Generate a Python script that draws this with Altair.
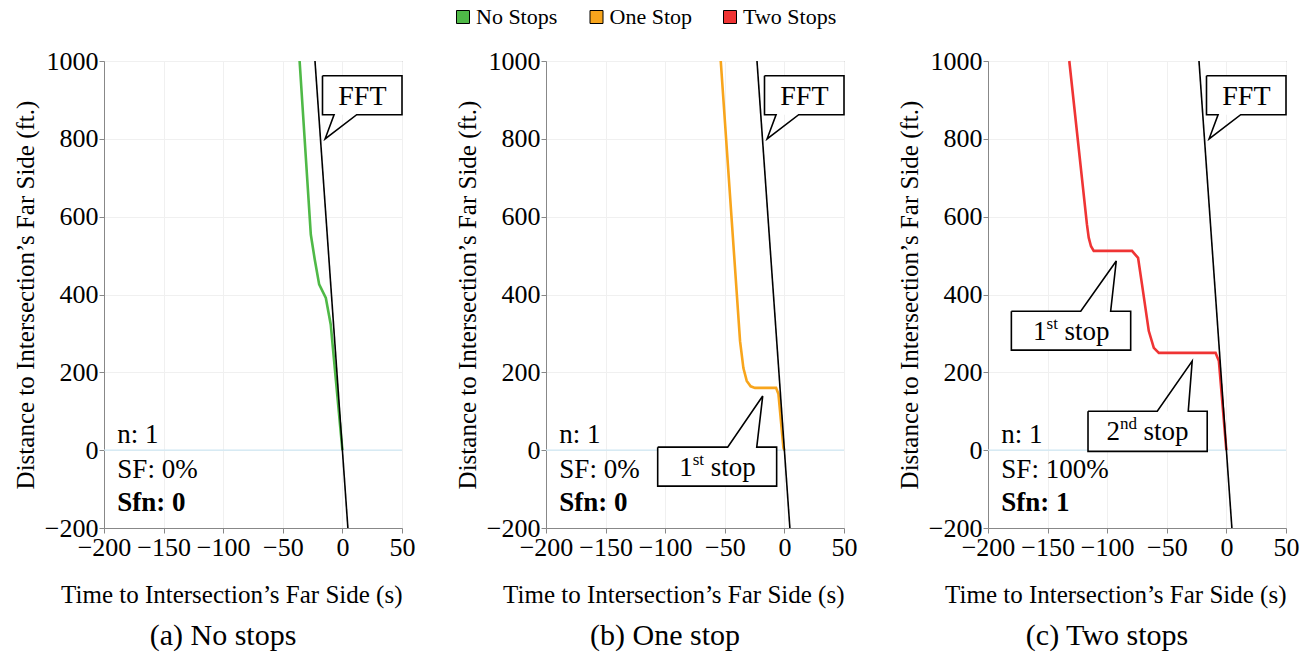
import altair as alt
import pandas as pd

FONT = "Liberation Serif"

SERIES = ["No Stops", "One Stop", "Two Stops"]
SERIES_COLORS = ["#4fb947", "#f8a51c", "#ef3434"]

# series (time s, distance ft)
no_t = [-35.9, -26.5, -23.2, -19.5, -13.9, -9.8, 0.0]
no_d = [1000, 554, 490, 426, 391, 323, 0]

one_t = [-53.4, -37.2, -34.4, -31.6, -28.3, -24.7, -7.0, -5.0, -0.8, 0.0]
one_d = [1000, 280, 211, 178, 164, 160, 160, 144, 6, 0]

two_t = [-131.8, -117.0, -115.5, -113.6, -111.3, -79.2, -74.1, -70.8, -65.1, -60.9, -56.7, -9.1, -6.3, -0.2, 0.0]
two_d = [1000, 580, 546, 524, 512, 512, 494, 426, 306, 263, 250, 250, 229, 6, 0]

# free-flow trajectory
fft_t = [-23.0, 4.6]
fft_d = [1000, -200]

x_ticks = [-200, -150, -100, -50, 0, 50]
y_ticks = [-200, 0, 200, 400, 600, 800, 1000]

captions = ["(a) No stops", "(b) One stop", "(c) Two stops"]
n_labels = ["n: 1", "n: 1", "n: 1"]
sf_labels = ["SF: 0%", "SF: 0%", "SF: 100%"]
sfn_labels = ["Sfn: 0", "Sfn: 0", "Sfn: 1"]
stat_t = -188.8
stat_d = [19, -71, -157]

# callouts: box [t0, t1, d0, d1], wedge [base_a, base_b, tip_t, tip_d]
fft_box = [-16.7, 50, 862, 962]
fft_wedge = [-7, 12, -14.5, 800]
b1_box = [-106.3, -6.5, -92.5, 7.7]
b1_wedge = [-47.6, -23.2, -18.2, 139]
c1_box = [-180.4, -80.3, 257, 357]
c1_wedge = [-122.2, -97.1, -92.4, 486]
c2_box = [-116.1, -16.1, -3, 100]
c2_wedge = [-58, -32, -28.7, 229]

XSCALE = alt.Scale(domain=[-200, 50], nice=False, zero=False)
YSCALE = alt.Scale(domain=[-200, 1000], nice=False, zero=False)
XAXIS = alt.Axis(values=x_ticks, format="d", title="Time to Intersection\u2019s Far Side (s)",
                 titleAnchor="end", labelFlush=False, labelOverlap=False, titlePadding=22,
                 labelPadding=1)
YAXIS = alt.Axis(values=y_ticks, format="d", title="Distance to Intersection\u2019s Far Side (ft.)",
                 labelOverlap=False, titlePadding=6, labelPadding=1)


def xq(field):
    return alt.X(f"{field}:Q", scale=XSCALE, axis=XAXIS)


def yq(field):
    return alt.Y(f"{field}:Q", scale=YSCALE, axis=YAXIS)


def callout(box, wedge, parts):
    t0, t1, d0, d1 = box
    ba, bb, tt, td = wedge
    if td > d1:
        pts = [(t0, d1), (ba, d1), (tt, td), (bb, d1), (t1, d1), (t1, d0), (t0, d0), (t0, d1)]
    else:
        pts = [(t0, d1), (t1, d1), (t1, d0), (bb, d0), (tt, td), (ba, d0), (t0, d0), (t0, d1)]
    rect = alt.Chart(pd.DataFrame({"t0": [t0], "t1": [t1], "d0": [d0], "d1": [d1]})).mark_rect(
        color="white").encode(x=xq("t0"), x2="t1", y=yq("d0"), y2="d1")
    outline = alt.Chart(pd.DataFrame({"t": [p[0] for p in pts], "d": [p[1] for p in pts],
                                      "o": list(range(len(pts)))})).mark_line(
        color="black", strokeWidth=1.6).encode(x=xq("t"), y=yq("d"), order="o:Q")
    center = pd.DataFrame({"t": [(t0 + t1) / 2], "d": [(d0 + d1) / 2]})
    layers = [rect, outline]
    for text, dx, dy, size in parts:
        layers.append(alt.Chart(center).mark_text(text=text, align="left", baseline="alphabetic",
                                                  dx=dx, dy=dy, font=FONT, fontSize=size,
                                                  color="black").encode(x=xq("t"), y=yq("d")))
    return layers


FFT_PARTS = [("FFT", -24, 10, 28)]
FIRST_PARTS = [("1", -38, 9, 27), ("st", -24.5, -2, 17), ("stop", -6.5, 9, 27)]
SECOND_PARTS = [("2", -41, 9, 27), ("nd", -27.5, -2, 17), ("stop", -4, 9, 27)]


def panel(idx, t_vals, d_vals, extra_callouts):
    name = SERIES[idx]
    sdf = pd.DataFrame({"t": t_vals, "d": d_vals, "series": name, "o": list(range(len(t_vals)))})
    zero = alt.Chart(pd.DataFrame({"d": [0]})).mark_rule(color="#cfe8f4", strokeWidth=1.2).encode(
        y=yq("d"))
    line = alt.Chart(sdf).mark_line(strokeWidth=2.6).encode(
        x=xq("t"), y=yq("d"), order="o:Q",
        stroke=alt.Stroke("series:N", scale=alt.Scale(domain=SERIES, range=SERIES_COLORS), legend=None))
    fft = alt.Chart(pd.DataFrame({"t": fft_t, "d": fft_d})).mark_line(
        color="black", strokeWidth=1.6).encode(x=xq("t"), y=yq("d"))
    layers = [zero, line, fft]
    layers += callout(fft_box, fft_wedge, FFT_PARTS)
    for box, wedge, parts in extra_callouts:
        layers += callout(box, wedge, parts)
    stats = pd.DataFrame({"t": [stat_t] * 3, "d": stat_d})
    for k, label in enumerate([n_labels[idx], sf_labels[idx], sfn_labels[idx]]):
        layers.append(alt.Chart(stats.iloc[[k]]).mark_text(
            text=label, align="left", baseline="alphabetic", font=FONT, fontSize=27,
            fontWeight="bold" if k == 2 else "normal", color="black").encode(x=xq("t"), y=yq("d")))
    return alt.layer(*layers).properties(
        width=298, height=467,
        view=alt.ViewBackground(stroke="#888888", strokeWidth=1),
        title=alt.TitleParams(captions[idx], orient="bottom", font=FONT, fontSize=30,
                              fontWeight="normal", color="black", dx=-30, offset=14))


pa = panel(0, no_t, no_d, [])
pb = panel(1, one_t, one_d, [(b1_box, b1_wedge, FIRST_PARTS)])
pc = panel(2, two_t, two_d, [(c1_box, c1_wedge, FIRST_PARTS), (c2_box, c2_wedge, SECOND_PARTS)])

# legend row drawn from the series list through a point scale
legend_df = pd.DataFrame({"series": SERIES})
LEG_X = alt.X("series:N", sort=SERIES, axis=None,
              scale=alt.Scale(type="point", domain=SERIES, range=[359, 626], padding=0))
leg_sq = alt.Chart(legend_df).mark_square(size=169, stroke="black", strokeWidth=1, opacity=1).encode(
    x=LEG_X,
    fill=alt.Fill("series:N", scale=alt.Scale(domain=SERIES, range=SERIES_COLORS), legend=None))
leg_tx = alt.Chart(legend_df).mark_text(align="left", baseline="middle", dx=13, font=FONT,
                                        fontSize=22, color="black").encode(x=LEG_X, text="series:N")
legend_row = alt.layer(leg_sq, leg_tx).properties(
    width=1100, height=20, view=alt.ViewBackground(stroke="transparent"))

panels = alt.hconcat(pa, pb, pc, spacing=38)

chart = alt.vconcat(legend_row, panels, spacing=18).properties(
    padding={"left": 12, "top": 5, "right": 5, "bottom": 5}
).configure_axis(
    labelFont=FONT, titleFont=FONT, labelFontSize=26, titleFontSize=25, labelColor="black",
    titleColor="black", titleFontWeight="normal", domainColor="#888888", tickColor="#888888",
    tickSize=5, gridColor="#f0f0f0", gridWidth=1
)

chart.save("out.html", embed_options={"renderer": "svg", "actions": False})
